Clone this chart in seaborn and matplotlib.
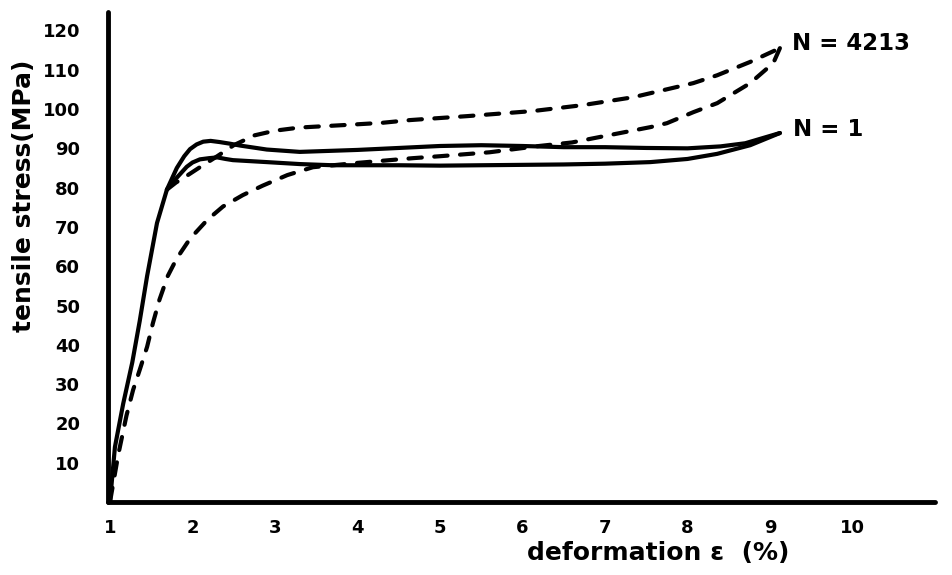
import matplotlib
matplotlib.use("Agg")
import matplotlib.pyplot as plt
import seaborn as sns
import pandas as pd

# ---- data ----
# N = 1 cycle (solid): loading branch
n1_load_x = [1.00, 1.06, 1.16, 1.27, 1.36, 1.45, 1.57, 1.69, 1.81, 1.90, 1.97, 2.05, 2.13, 2.22,
             2.33, 2.45, 2.58, 2.90, 3.30, 4.00, 4.50, 5.00, 5.50, 6.00, 6.50, 7.00, 7.50,
             8.00, 8.40, 8.70, 9.12]
n1_load_y = [0.0, 14.0, 25.0, 35.5, 46.0, 57.5, 71.0, 79.5, 85.0, 88.0, 89.8, 91.0, 91.7, 91.9,
             91.6, 91.2, 90.7, 89.7, 89.1, 89.6, 90.1, 90.6, 90.8, 90.6, 90.3, 90.3, 90.1,
             90.0, 90.5, 91.3, 93.9]
# N = 1 cycle (solid): return branch
n1_ret_x = [9.12, 8.76, 8.36, 8.00, 7.55, 7.00, 6.50, 6.00, 5.50, 5.00, 4.50, 4.00, 3.70, 3.30,
            2.90, 2.49, 2.40, 2.30, 2.20, 2.09, 2.00, 1.93, 1.80, 1.69]
n1_ret_y = [93.9, 90.8, 88.6, 87.3, 86.5, 86.1, 85.9, 85.8, 85.7, 85.6, 85.7, 85.7, 85.7, 86.0,
            86.5, 87.0, 87.3, 87.7, 87.5, 87.2, 86.4, 85.3, 82.3, 79.5]
# N = 4213 cycle (dashed): upper branch
n4213_up_x = [1.69, 1.80, 1.93, 2.09, 2.30, 2.50, 2.75, 3.00, 3.30, 3.90, 4.30, 4.64, 5.33,
              6.13, 6.73, 7.34, 8.07, 8.36, 8.76, 9.12]
n4213_up_y = [79.5, 81.3, 83.0, 85.2, 88.0, 90.8, 93.3, 94.5, 95.3, 96.0, 96.5, 97.2, 98.2,
              99.5, 101.0, 103.0, 106.6, 108.6, 112.0, 115.5]
# N = 4213 cycle (dashed): lower branch
n4213_lo_x = [9.12, 9.04, 8.76, 8.36, 8.07, 7.75, 7.55, 6.94, 6.60, 6.20, 5.60, 5.00, 4.67,
              4.00, 3.46, 3.15, 2.85, 2.61, 2.37, 2.18, 1.97, 1.81, 1.70, 1.60, 1.52, 1.45,
              1.36, 1.28, 1.20, 1.10, 1.00]
n4213_lo_y = [115.5, 111.7, 106.6, 101.5, 99.2, 96.4, 95.4, 92.9, 91.5, 90.6, 89.0, 88.0, 87.5,
              86.3, 85.2, 83.2, 80.5, 78.1, 75.2, 71.8, 67.0, 62.0, 57.5, 51.5, 45.5, 39.5,
              33.6, 28.5, 22.0, 12.0, 0.0]

x_ticks = [1, 2, 3, 4, 5, 6, 7, 8, 9, 10]
y_ticks = [10, 20, 30, 40, 50, 60, 70, 80, 90, 100, 110, 120]
x_label = "deformation ε  (%)"
y_label = "tensile stress(MPa)"
label_n4213 = "N = 4213"
label_n1 = "N = 1"

# ---- figure ----
sns.set_theme(style="white")
plt.rcParams["font.family"] = ["DejaVu Sans"]
plt.rcParams["font.weight"] = "bold"

fig = plt.figure(figsize=(9.53, 5.75), dpi=100)
ax = fig.add_axes([108 / 953, 73 / 575, 827 / 953, 490 / 575])

def draw(xs, ys, dashed=False):
    df = pd.DataFrame({"x": xs, "y": ys})
    sns.lineplot(data=df, x="x", y="y", sort=False, estimator=None, ax=ax,
                 color="black", linewidth=3.0)
    ln = ax.lines[-1]
    ln.set_solid_capstyle("round")
    ln.set_solid_joinstyle("round")
    if dashed:
        ln.set_dashes([3.2, 3.0])
        ln.set_dash_capstyle("round")

draw(n1_load_x, n1_load_y)
draw(n1_ret_x, n1_ret_y)
draw(n4213_up_x, n4213_up_y, dashed=True)
draw(n4213_lo_x, n4213_lo_y, dashed=True)

ax.set_xlim(0.976, 11.0)
ax.set_ylim(0, 124.7)
ax.set_xticks(x_ticks)
ax.set_yticks(y_ticks)
ax.set_xticklabels([str(v) for v in x_ticks], fontsize=13, fontweight="bold")
ax.set_yticklabels([str(v) for v in y_ticks], fontsize=13, fontweight="bold")
ax.tick_params(axis="both", direction="in", length=5, width=2.5, color="black",
               labelcolor="black")
ax.tick_params(axis="x", pad=12)
ax.tick_params(axis="y", pad=20)

for side in ["top", "right"]:
    ax.spines[side].set_visible(False)
for side in ["left", "bottom"]:
    ax.spines[side].set_color("black")
    ax.spines[side].set_linewidth(3.5)
    ax.spines[side].set_capstyle("round")

ax.set_xlabel(x_label, fontsize=18, fontweight="bold", color="black")
ax.set_ylabel(y_label, fontsize=18, fontweight="bold", color="black")
ax.xaxis.set_label_coords(0.665, -0.104)
ax.xaxis.label.set_verticalalignment("center")
ax.yaxis.set_label_coords(-0.1016, 0.624)
ax.yaxis.label.set_verticalalignment("center")

ax.text(9.27, 116.8, label_n4213, fontsize=16.5, fontweight="bold", ha="left", va="center",
        color="black")
ax.text(9.28, 94.7, label_n1, fontsize=16.5, fontweight="bold", ha="left", va="center",
        color="black")

ax.set_facecolor("white")
fig.patch.set_facecolor("white")
fig.savefig("out.png", dpi=100, facecolor="white")
